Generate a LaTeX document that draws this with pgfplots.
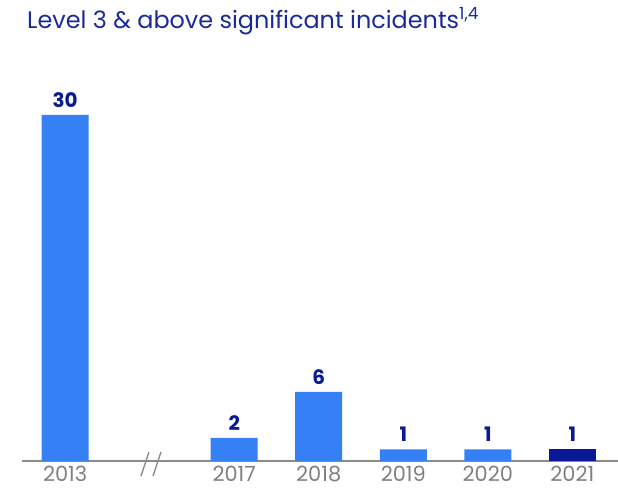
\documentclass[border=0pt]{standalone}
\usepackage{fontspec}
\setmainfont{Poppins}
\usepackage{pgfplots}
\pgfplotsset{compat=1.18}
\definecolor{barblue}{HTML}{3580F5}
\definecolor{navy}{HTML}{0A1A96}
\definecolor{titleblue}{HTML}{1A2A9A}
\definecolor{axgray}{HTML}{8A8A8A}
\definecolor{labgray}{HTML}{7F7F7F}
\begin{document}
\begin{tikzpicture}[x=1bp,y=1bp]
\path[use as bounding box] (-22,-33) rectangle (596,461);
\begin{axis}[
  at={(0,0)}, anchor=south west,
  scale only axis, width=596bp, height=346bp,
  xmin=-0.51, xmax=6.54, ymin=0, ymax=30,
  clip=false,
  /pgf/number format/assume math mode=true,
  axis x line*=bottom, axis y line=none,
  x axis line style={axgray, line width=1.6bp, -},
  xtick={0,2,3,4,5,6},
  xticklabels={2013,2017,2018,2019,2020,2021},
  major tick length=0pt,
  xticklabel style={font=\fontsize{21}{23}\selectfont, text=labgray, yshift=-2bp},
  nodes near coords,
  nodes near coords style={font=\fontsize{20}{22}\selectfont\bfseries, text=navy, yshift=4bp},
]
\addplot[ybar, bar width=47bp, fill=barblue, draw=none] coordinates {(0,30) (2,2) (3,6) (4,1) (5,1)};
\addplot[ybar, bar width=47bp, fill=navy, draw=none] coordinates {(6,1)};
\end{axis}
\draw[axgray, line width=1.4bp] (119,-15) -- (127,9);
\draw[axgray, line width=1.4bp] (131,-15) -- (139,9);
\node[anchor=base west, inner sep=0, text=titleblue, font=\fontsize{24}{26}\selectfont] at (5,432) {Level 3 \& above significant incidents\textsuperscript{1,4}};
\end{tikzpicture}
\end{document}
